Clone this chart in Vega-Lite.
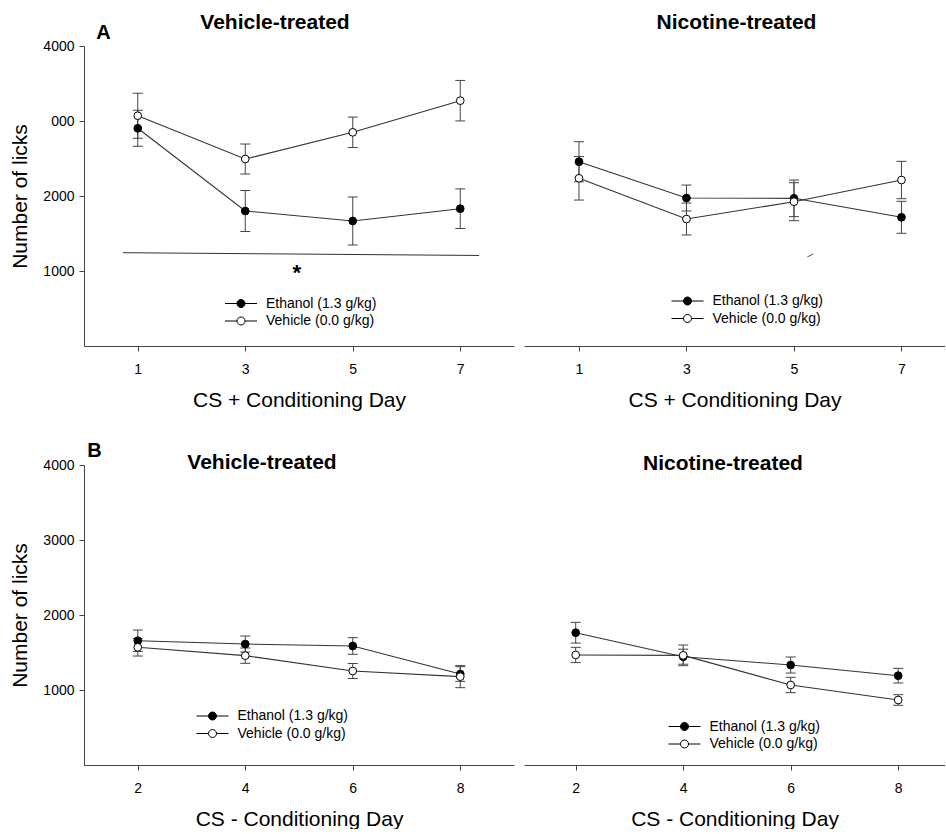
{
  "$schema": "https://vega.github.io/schema/vega-lite/v6.json",
  "autosize": {"type": "pad"},
  "padding": {"left": 9, "top": 11, "right": 0, "bottom": 0},
  "background": "white",
  "config": {
    "font": "Liberation Sans",
    "view": {"stroke": null},
    "axis": {"grid": false, "domainColor": "#444", "tickColor": "#444", "labelColor": "#000", "titleColor": "#000", "labelFont": "Liberation Sans", "titleFont": "Liberation Sans", "titleFontWeight": "normal", "tickSize": 5, "domainWidth": 1, "tickWidth": 1},
    "legend": {"labelFont": "Liberation Sans", "labelFontSize": 14, "labelColor": "#000", "symbolType": "M-3.2,0L-0.8,0M0.8,0L3.2,0M0.8,0A0.8,0.8,0,1,1,-0.8,0A0.8,0.8,0,1,1,0.8,0Z", "symbolSize": 100, "symbolStrokeColor": "#000", "symbolStrokeWidth": 1, "labelOffset": 18, "rowPadding": 3.5, "padding": 0},
    "title": {"font": "Liberation Sans", "fontSize": 21, "fontWeight": "bold", "color": "#000"}
  },
  "datasets": {
    "TL": [
      {"day": 1, "group": "Ethanol (1.3 g/kg)", "licks": 2903, "lo": 2663, "hi": 3143},
      {"day": 3, "group": "Ethanol (1.3 g/kg)", "licks": 1800, "lo": 1527, "hi": 2073},
      {"day": 5, "group": "Ethanol (1.3 g/kg)", "licks": 1667, "lo": 1347, "hi": 1987},
      {"day": 7, "group": "Ethanol (1.3 g/kg)", "licks": 1831, "lo": 1567, "hi": 2095},
      {"day": 1, "group": "Vehicle (0.0 g/kg)", "licks": 3070, "lo": 2770, "hi": 3370},
      {"day": 3, "group": "Vehicle (0.0 g/kg)", "licks": 2493, "lo": 2293, "hi": 2693},
      {"day": 5, "group": "Vehicle (0.0 g/kg)", "licks": 2849, "lo": 2646, "hi": 3052},
      {"day": 7, "group": "Vehicle (0.0 g/kg)", "licks": 3271, "lo": 3001, "hi": 3541}
    ],
    "TR": [
      {"day": 1, "group": "Ethanol (1.3 g/kg)", "licks": 2457, "lo": 2190, "hi": 2724},
      {"day": 3, "group": "Ethanol (1.3 g/kg)", "licks": 1973, "lo": 1800, "hi": 2146},
      {"day": 5, "group": "Ethanol (1.3 g/kg)", "licks": 1969, "lo": 1725, "hi": 2213},
      {"day": 7, "group": "Ethanol (1.3 g/kg)", "licks": 1716, "lo": 1503, "hi": 1929},
      {"day": 1, "group": "Vehicle (0.0 g/kg)", "licks": 2236, "lo": 1946, "hi": 2526},
      {"day": 3, "group": "Vehicle (0.0 g/kg)", "licks": 1693, "lo": 1480, "hi": 1906},
      {"day": 5, "group": "Vehicle (0.0 g/kg)", "licks": 1924, "lo": 1671, "hi": 2177},
      {"day": 7, "group": "Vehicle (0.0 g/kg)", "licks": 2213, "lo": 1964, "hi": 2462}
    ],
    "BL": [
      {"day": 2, "group": "Ethanol (1.3 g/kg)", "licks": 1657, "lo": 1514, "hi": 1800},
      {"day": 4, "group": "Ethanol (1.3 g/kg)", "licks": 1613, "lo": 1506, "hi": 1720},
      {"day": 6, "group": "Ethanol (1.3 g/kg)", "licks": 1587, "lo": 1476, "hi": 1698},
      {"day": 8, "group": "Ethanol (1.3 g/kg)", "licks": 1213, "lo": 1115, "hi": 1311},
      {"day": 2, "group": "Vehicle (0.0 g/kg)", "licks": 1569, "lo": 1453, "hi": 1685},
      {"day": 4, "group": "Vehicle (0.0 g/kg)", "licks": 1458, "lo": 1356, "hi": 1560},
      {"day": 6, "group": "Vehicle (0.0 g/kg)", "licks": 1253, "lo": 1153, "hi": 1353},
      {"day": 8, "group": "Vehicle (0.0 g/kg)", "licks": 1178, "lo": 1031, "hi": 1325}
    ],
    "BR": [
      {"day": 2, "group": "Ethanol (1.3 g/kg)", "licks": 1764, "lo": 1626, "hi": 1902},
      {"day": 4, "group": "Ethanol (1.3 g/kg)", "licks": 1444, "lo": 1344, "hi": 1544},
      {"day": 6, "group": "Ethanol (1.3 g/kg)", "licks": 1333, "lo": 1226, "hi": 1440},
      {"day": 8, "group": "Ethanol (1.3 g/kg)", "licks": 1191, "lo": 1093, "hi": 1289},
      {"day": 2, "group": "Vehicle (0.0 g/kg)", "licks": 1467, "lo": 1365, "hi": 1569},
      {"day": 4, "group": "Vehicle (0.0 g/kg)", "licks": 1462, "lo": 1324, "hi": 1600},
      {"day": 6, "group": "Vehicle (0.0 g/kg)", "licks": 1067, "lo": 965, "hi": 1169},
      {"day": 8, "group": "Vehicle (0.0 g/kg)", "licks": 867, "lo": 796, "hi": 938}
    ],
    "sigLineTL": [{"day": 0.726, "day2": 7.35, "licks": 1244, "licks2": 1207}],
    "sigStarTL": [{"day": 3.96, "licks": 880, "label": "*"}],
    "slashTR": [{"day": 5.247, "day2": 5.358, "licks": 1187, "licks2": 1227}],
    "letterA": [{"day": 0.363, "licks": 4173, "label": "A"}],
    "letterB": [{"day": 1.195, "licks": 4187, "label": "B"}]
  },
  "bounds": "flush",
  "columns": 2,
  "spacing": {"row": 119, "column": 10},
  "resolve": {"scale": {"x": "independent", "y": "independent", "fill": "independent"}, "legend": {"fill": "independent"}, "axis": {"x": "independent", "y": "independent"}},
  "concat": [
    {
      "width": 430, "height": 300,
      "title": {"text": "Vehicle-treated", "frame": "group", "dx": -24, "offset": -9.5},
      "data": {"name": "TL"},
      "encoding": {
        "x": {"field": "day", "type": "quantitative", "scale": {"domain": [0, 8], "nice": false, "zero": false},
              "axis": {"title": "CS + Conditioning Day", "values": [1, 3, 5, 7], "format": "d", "labelFontSize": 14, "labelPadding": 11, "titleFontSize": 21, "titlePadding": 13}},
        "y": {"field": "licks", "type": "quantitative", "scale": {"domain": [0, 4000], "nice": false, "zero": false},
              "axis": {"title": "Number of licks", "values": [1000, 2000, 3000, 4000], "format": "d", "labelExpr": "datum.value == 3000 ? '000' : datum.label", "labelFontSize": 14, "labelPadding": 5, "titleFontSize": 21, "titlePadding": 12}}
      },
      "layer": [
        {"mark": {"type": "rule", "color": "#444", "strokeWidth": 1},
         "encoding": {"y": {"field": "lo", "type": "quantitative", "scale": {"domain": [0, 4000], "nice": false, "zero": false},
              "axis": {"title": "Number of licks", "values": [1000, 2000, 3000, 4000], "format": "d", "labelExpr": "datum.value == 3000 ? '000' : datum.label", "labelFontSize": 14, "labelPadding": 5, "titleFontSize": 21, "titlePadding": 12}}, "y2": {"field": "hi"}}},
        {"mark": {"type": "tick", "orient": "horizontal", "size": 10, "thickness": 1, "color": "#444", "opacity": 1},
         "encoding": {"y": {"field": "lo", "type": "quantitative", "scale": {"domain": [0, 4000], "nice": false, "zero": false},
              "axis": {"title": "Number of licks", "values": [1000, 2000, 3000, 4000], "format": "d", "labelExpr": "datum.value == 3000 ? '000' : datum.label", "labelFontSize": 14, "labelPadding": 5, "titleFontSize": 21, "titlePadding": 12}}}},
        {"mark": {"type": "tick", "orient": "horizontal", "size": 10, "thickness": 1, "color": "#444", "opacity": 1},
         "encoding": {"y": {"field": "hi", "type": "quantitative", "scale": {"domain": [0, 4000], "nice": false, "zero": false},
              "axis": {"title": "Number of licks", "values": [1000, 2000, 3000, 4000], "format": "d", "labelExpr": "datum.value == 3000 ? '000' : datum.label", "labelFontSize": 14, "labelPadding": 5, "titleFontSize": 21, "titlePadding": 12}}}},
        {"mark": {"type": "line", "color": "#333", "strokeWidth": 1.1},
         "encoding": {"detail": {"field": "group"}}},
        {"mark": {"type": "point", "filled": true, "size": 60, "stroke": "#000", "strokeWidth": 1, "opacity": 1},
         "encoding": {"fill": {"field": "group", "type": "nominal", "scale": {"domain": ["Ethanol (1.3 g/kg)", "Vehicle (0.0 g/kg)"], "range": ["#000000", "#ffffff"]},
                                "legend": {"orient": "none", "legendX": 150, "legendY": 250.5, "title": null, "labelFontSize": 14, "labelOffset": 18}}}},
        {"data": {"name": "sigLineTL"},
         "mark": {"type": "rule", "color": "#333", "strokeWidth": 1},
         "encoding": {"x2": {"field": "day2"}, "y2": {"field": "licks2"}}},
        {"data": {"name": "sigStarTL"},
         "mark": {"type": "text", "fontSize": 22, "fontWeight": "bold", "baseline": "alphabetic", "align": "center", "color": "#000"},
         "encoding": {"text": {"field": "label"}}},
        {"data": {"name": "letterA"},
         "mark": {"type": "text", "fontSize": 20, "fontWeight": "bold", "baseline": "middle", "align": "center", "color": "#000"},
         "encoding": {"text": {"field": "label"}}}
      ]
    },
    {
      "width": 421, "height": 300,
      "title": {"text": "Nicotine-treated", "frame": "group", "dx": 2, "offset": 13},
      "data": {"name": "TR"},
      "encoding": {
        "x": {"field": "day", "type": "quantitative", "scale": {"domain": [-0.023, 7.81], "nice": false, "zero": false},
              "axis": {"title": "CS + Conditioning Day", "values": [1, 3, 5, 7], "format": "d", "labelFontSize": 14, "labelPadding": 11, "titleFontSize": 21, "titlePadding": 13}},
        "y": {"field": "licks", "type": "quantitative", "scale": {"domain": [0, 4000], "nice": false, "zero": false}, "axis": null}
      },
      "layer": [
        {"mark": {"type": "rule", "color": "#444", "strokeWidth": 1},
         "encoding": {"y": {"field": "lo", "type": "quantitative", "scale": {"domain": [0, 4000], "nice": false, "zero": false}, "axis": null}, "y2": {"field": "hi"}}},
        {"mark": {"type": "tick", "orient": "horizontal", "size": 10, "thickness": 1, "color": "#444", "opacity": 1},
         "encoding": {"y": {"field": "lo", "type": "quantitative", "scale": {"domain": [0, 4000], "nice": false, "zero": false}, "axis": null}}},
        {"mark": {"type": "tick", "orient": "horizontal", "size": 10, "thickness": 1, "color": "#444", "opacity": 1},
         "encoding": {"y": {"field": "hi", "type": "quantitative", "scale": {"domain": [0, 4000], "nice": false, "zero": false}, "axis": null}}},
        {"mark": {"type": "line", "color": "#333", "strokeWidth": 1.1},
         "encoding": {"detail": {"field": "group"}}},
        {"mark": {"type": "point", "filled": true, "size": 60, "stroke": "#000", "strokeWidth": 1, "opacity": 1},
         "encoding": {"fill": {"field": "group", "type": "nominal", "scale": {"domain": ["Ethanol (1.3 g/kg)", "Vehicle (0.0 g/kg)"], "range": ["#000000", "#ffffff"]},
                                "legend": {"orient": "none", "legendX": 156.5, "legendY": 248, "title": null, "labelFontSize": 14, "labelOffset": 18}}}},
        {"data": {"name": "slashTR"},
         "mark": {"type": "rule", "color": "#555", "strokeWidth": 1},
         "encoding": {"x2": {"field": "day2"}, "y2": {"field": "licks2"}}}
      ]
    },
    {
      "width": 430, "height": 300,
      "title": {"text": "Vehicle-treated", "frame": "group", "dx": -37, "offset": -32.5},
      "data": {"name": "BL"},
      "encoding": {
        "x": {"field": "day", "type": "quantitative", "scale": {"domain": [1, 9], "nice": false, "zero": false},
              "axis": {"title": "CS - Conditioning Day", "values": [2, 4, 6, 8], "format": "d", "labelFontSize": 14, "labelPadding": 11, "titleFontSize": 21, "titlePadding": 13}},
        "y": {"field": "licks", "type": "quantitative", "scale": {"domain": [0, 4000], "nice": false, "zero": false},
              "axis": {"title": "Number of licks", "values": [1000, 2000, 3000, 4000], "format": "d", "labelFontSize": 14, "labelPadding": 5, "titleFontSize": 21, "titlePadding": 12}}
      },
      "layer": [
        {"mark": {"type": "rule", "color": "#444", "strokeWidth": 1},
         "encoding": {"y": {"field": "lo", "type": "quantitative", "scale": {"domain": [0, 4000], "nice": false, "zero": false},
              "axis": {"title": "Number of licks", "values": [1000, 2000, 3000, 4000], "format": "d", "labelFontSize": 14, "labelPadding": 5, "titleFontSize": 21, "titlePadding": 12}}, "y2": {"field": "hi"}}},
        {"mark": {"type": "tick", "orient": "horizontal", "size": 10, "thickness": 1, "color": "#444", "opacity": 1},
         "encoding": {"y": {"field": "lo", "type": "quantitative", "scale": {"domain": [0, 4000], "nice": false, "zero": false},
              "axis": {"title": "Number of licks", "values": [1000, 2000, 3000, 4000], "format": "d", "labelFontSize": 14, "labelPadding": 5, "titleFontSize": 21, "titlePadding": 12}}}},
        {"mark": {"type": "tick", "orient": "horizontal", "size": 10, "thickness": 1, "color": "#444", "opacity": 1},
         "encoding": {"y": {"field": "hi", "type": "quantitative", "scale": {"domain": [0, 4000], "nice": false, "zero": false},
              "axis": {"title": "Number of licks", "values": [1000, 2000, 3000, 4000], "format": "d", "labelFontSize": 14, "labelPadding": 5, "titleFontSize": 21, "titlePadding": 12}}}},
        {"mark": {"type": "line", "color": "#333", "strokeWidth": 1.1},
         "encoding": {"detail": {"field": "group"}}},
        {"mark": {"type": "point", "filled": true, "size": 60, "stroke": "#000", "strokeWidth": 1, "opacity": 1},
         "encoding": {"fill": {"field": "group", "type": "nominal", "scale": {"domain": ["Ethanol (1.3 g/kg)", "Vehicle (0.0 g/kg)"], "range": ["#000000", "#ffffff"]},
                                "legend": {"orient": "none", "legendX": 121.5, "legendY": 244, "title": null, "labelFontSize": 14, "labelOffset": 18}}}},
        {"data": {"name": "letterB"},
         "mark": {"type": "text", "fontSize": 20, "fontWeight": "bold", "baseline": "middle", "align": "center", "color": "#000"},
         "encoding": {"text": {"field": "label"}}}
      ]
    },
    {
      "width": 421, "height": 300,
      "title": {"text": "Nicotine-treated", "frame": "group", "dx": -11.5, "offset": -8.5},
      "data": {"name": "BR"},
      "encoding": {
        "x": {"field": "day", "type": "quantitative", "scale": {"domain": [1.038, 8.871], "nice": false, "zero": false},
              "axis": {"title": "CS - Conditioning Day", "values": [2, 4, 6, 8], "format": "d", "labelFontSize": 14, "labelPadding": 11, "titleFontSize": 21, "titlePadding": 13}},
        "y": {"field": "licks", "type": "quantitative", "scale": {"domain": [0, 4000], "nice": false, "zero": false}, "axis": null}
      },
      "layer": [
        {"mark": {"type": "rule", "color": "#444", "strokeWidth": 1},
         "encoding": {"y": {"field": "lo", "type": "quantitative", "scale": {"domain": [0, 4000], "nice": false, "zero": false}, "axis": null}, "y2": {"field": "hi"}}},
        {"mark": {"type": "tick", "orient": "horizontal", "size": 10, "thickness": 1, "color": "#444", "opacity": 1},
         "encoding": {"y": {"field": "lo", "type": "quantitative", "scale": {"domain": [0, 4000], "nice": false, "zero": false}, "axis": null}}},
        {"mark": {"type": "tick", "orient": "horizontal", "size": 10, "thickness": 1, "color": "#444", "opacity": 1},
         "encoding": {"y": {"field": "hi", "type": "quantitative", "scale": {"domain": [0, 4000], "nice": false, "zero": false}, "axis": null}}},
        {"mark": {"type": "line", "color": "#333", "strokeWidth": 1.1},
         "encoding": {"detail": {"field": "group"}}},
        {"mark": {"type": "point", "filled": true, "size": 60, "stroke": "#000", "strokeWidth": 1, "opacity": 1},
         "encoding": {"fill": {"field": "group", "type": "nominal", "scale": {"domain": ["Ethanol (1.3 g/kg)", "Vehicle (0.0 g/kg)"], "range": ["#000000", "#ffffff"]},
                                "legend": {"orient": "none", "legendX": 153.5, "legendY": 254.5, "title": null, "labelFontSize": 14, "labelOffset": 18}}}}
      ]
    }
  ]
}
